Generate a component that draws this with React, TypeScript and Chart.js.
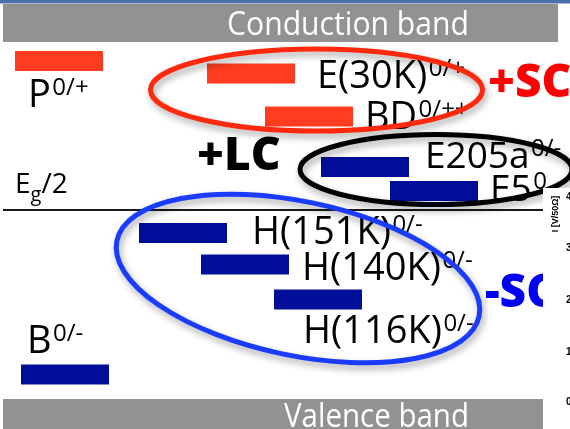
import React, { useEffect, useRef } from "react";
import { Chart, registerables } from "chart.js";

Chart.register(...registerables);

// Defect levels in the band gap (diagram units: x = position, y = depth below top)
const levelNames = ["P", "E(30K)", "BD", "E205a", "E5", "H(151K)", "H(140K)", "H(116K)", "B"];
const levelCharges = ["0/+", "0/+", "0/++", "0/-", "0", "0/-", "0/-", "0/-", "0/-"];
const levelKinds = ["donor", "donor", "donor", "acceptor", "acceptor", "acceptor", "acceptor", "acceptor", "acceptor"];
const levelEnergy = [61, 73.5, 116.5, 167, 191, 233, 264.5, 299.5, 374.5];
const levelFrom = [15, 207, 265, 321, 390, 139, 201, 274, 21];
const levelTo = [103, 295, 353, 409, 478, 227, 289, 362, 109];

// Groups (space charge / leakage current)
const groupLabels = ["+SC", "+LC", "-SC"];

// Inset axis ticks
const insetTicks = ["0", "1", "2", "3", "4"];

// ---------- layout (not data) ----------
const LABEL_LAYOUT: [number, number, number][] = [
  [28, 107, 38],
  [317, 88, 38],
  [365, 129, 38],
  [425, 168, 37],
  [490, 201, 37],
  [252, 244, 38],
  [302, 280, 38],
  [303, 343, 38],
  [27, 353, 38],
];
const GROUP_LAYOUT = [
  { x: 488, y: 97, color: "#ff0000", ell: { cx: 316.5, cy: 90, rx: 166, ry: 41, rot: 0, color: "#ff2a0d" } },
  { x: 197, y: 170, color: "#000000", ell: { cx: 436, cy: 169.5, rx: 136, ry: 35, rot: 0, color: "#000000" } },
  { x: 485, y: 307, color: "#0000f5", ell: { cx: 298, cy: 278.5, rx: 185, ry: 77, rot: (11.8 * Math.PI) / 180, color: "#1a3cff" } },
];
const INSET_TICK_Y = [402, 352, 300, 248, 197];
const FONT = "'Open Sans', 'DejaVu Sans', sans-serif";
const RED = "#ff3c1f";
const BLUE = "#000e9a";
const GRAY = "#929292";

function drawText(ctx: CanvasRenderingContext2D, s: string, x: number, y: number, font: string, color: string, fitW?: number) {
  ctx.save();
  ctx.font = font;
  ctx.fillStyle = color;
  ctx.textBaseline = "alphabetic";
  ctx.textAlign = "left";
  if (fitW) {
    const w = ctx.measureText(s).width;
    ctx.translate(x, y);
    ctx.scale(fitW / w, 1);
    ctx.fillText(s, 0, 0);
  } else {
    ctx.fillText(s, x, y);
  }
  const w = ctx.measureText(s).width;
  ctx.restore();
  return w;
}

const diagramPlugin = {
  id: "diagram",
  beforeDatasetsDraw(chart: any) {
    const { ctx } = chart;
    const xs = chart.scales.x;
    const ys = chart.scales.y;
    const X = (v: number) => xs.getPixelForValue(v);
    const Y = (v: number) => ys.getPixelForValue(v);
    ctx.save();
    ctx.fillStyle = "#ffffff";
    ctx.fillRect(0, 0, chart.width, chart.height);
    // top blue rule
    ctx.fillStyle = "#4a72a8";
    ctx.fillRect(X(0), Y(0), X(570) - X(0), Y(3.5) - Y(0));
    // conduction band
    ctx.fillStyle = GRAY;
    ctx.fillRect(X(3), Y(4), X(558) - X(3), Y(42) - Y(4));
    drawText(ctx, "Conduction band", X(227), Y(35), `32px ${FONT}`, "#ffffff", 242);
    // valence band
    ctx.fillStyle = GRAY;
    ctx.fillRect(X(3), Y(399), X(558) - X(3), Y(429) - Y(399));
    drawText(ctx, "Valence band", X(284), Y(427), `32px ${FONT}`, "#ffffff", 185);
    // midgap line
    ctx.strokeStyle = "#1a1a1a";
    ctx.lineWidth = 2;
    ctx.beginPath();
    ctx.moveTo(X(3), Y(210));
    ctx.lineTo(X(560), Y(210));
    ctx.stroke();
    let w = drawText(ctx, "E", X(15), Y(193), `28px ${FONT}`, "#000");
    const w2 = drawText(ctx, "g", X(15) + w, Y(201), `20px ${FONT}`, "#000");
    drawText(ctx, "/2", X(15) + w + w2, Y(193), `28px ${FONT}`, "#000");
    ctx.restore();
  },
  afterDatasetsDraw(chart: any) {
    const { ctx } = chart;
    const xs = chart.scales.x;
    const ys = chart.scales.y;
    const X = (v: number) => xs.getPixelForValue(v);
    const Y = (v: number) => ys.getPixelForValue(v);
    ctx.save();
    // level labels
    levelNames.forEach((name, i) => {
      const [lx, ly, fs] = LABEL_LAYOUT[i];
      const w = drawText(ctx, name, X(lx), Y(ly), `${fs}px ${FONT}`, "#000");
      drawText(ctx, levelCharges[i], X(lx) + w + 1.5, Y(ly) - 12, `24px ${FONT}`, "#000");
    });
    // group ellipses: blue, black, red
    [2, 1, 0].forEach((g) => {
      const e = GROUP_LAYOUT[g].ell;
      ctx.save();
      ctx.shadowColor = "rgba(0,0,0,0.35)";
      ctx.shadowBlur = 7;
      ctx.shadowOffsetX = 2;
      ctx.shadowOffsetY = 4;
      ctx.strokeStyle = e.color;
      ctx.lineWidth = 5;
      ctx.beginPath();
      ctx.ellipse(X(e.cx), Y(e.cy), Math.abs(X(e.cx + e.rx) - X(e.cx)), Math.abs(Y(e.cy + e.ry) - Y(e.cy)), e.rot, 0, Math.PI * 2);
      ctx.stroke();
      ctx.restore();
    });
    // group labels
    groupLabels.forEach((lab, g) => {
      const L = GROUP_LAYOUT[g];
      drawText(ctx, lab, X(L.x), Y(L.y), `800 46px ${FONT}`, L.color);
    });
    // inset graph fragment on the right
    ctx.fillStyle = "#ffffff";
    ctx.fillRect(X(543), Y(188), X(570) - X(543), Y(429) - Y(188));
    ctx.save();
    ctx.translate(X(556), Y(214));
    ctx.rotate(-Math.PI / 2);
    ctx.font = "bold 9px 'Liberation Sans', Arial, sans-serif";
    ctx.fillStyle = "#000";
    ctx.textAlign = "center";
    ctx.textBaseline = "middle";
    ctx.fillText("I [V/50Ω]", 0, 0);
    ctx.restore();
    insetTicks.forEach((t, i) => {
      ctx.font = "bold 10px 'Liberation Sans', Arial, sans-serif";
      ctx.fillStyle = "#000";
      ctx.textAlign = "left";
      ctx.textBaseline = "middle";
      ctx.fillText(t, X(566), Y(INSET_TICK_Y[i]));
    });
    ctx.restore();
  },
};

export default function App() {
  const ref = useRef<HTMLCanvasElement>(null);
  useEffect(() => {
    if (!ref.current) return;
    const datasets = levelNames.map((name, i) => ({
      label: name,
      data: [
        { x: levelFrom[i], y: levelEnergy[i] },
        { x: levelTo[i], y: levelEnergy[i] },
      ],
      showLine: true,
      borderColor: levelKinds[i] === "donor" ? RED : BLUE,
      backgroundColor: levelKinds[i] === "donor" ? RED : BLUE,
      borderWidth: 20,
      borderCapStyle: "butt" as const,
      pointRadius: 0,
      pointHoverRadius: 0,
      fill: false,
      tension: 0,
    }));
    const chart = new Chart(ref.current, {
      type: "scatter",
      data: { datasets },
      options: {
        animation: false,
        responsive: true,
        maintainAspectRatio: false,
        layout: { padding: 0 },
        events: [],
        plugins: { legend: { display: false }, tooltip: { enabled: false }, title: { display: false } },
        scales: {
          x: { type: "linear", min: 0, max: 570, display: false },
          y: { type: "linear", min: 0, max: 429, reverse: true, display: false },
        },
      },
      plugins: [diagramPlugin],
    });
    return () => chart.destroy();
  }, []);
  return (
    <div style={{ position: "fixed", left: 0, top: 0, width: 570, height: 429, background: "#fff" }}>
      <canvas ref={ref} />
    </div>
  );
}
